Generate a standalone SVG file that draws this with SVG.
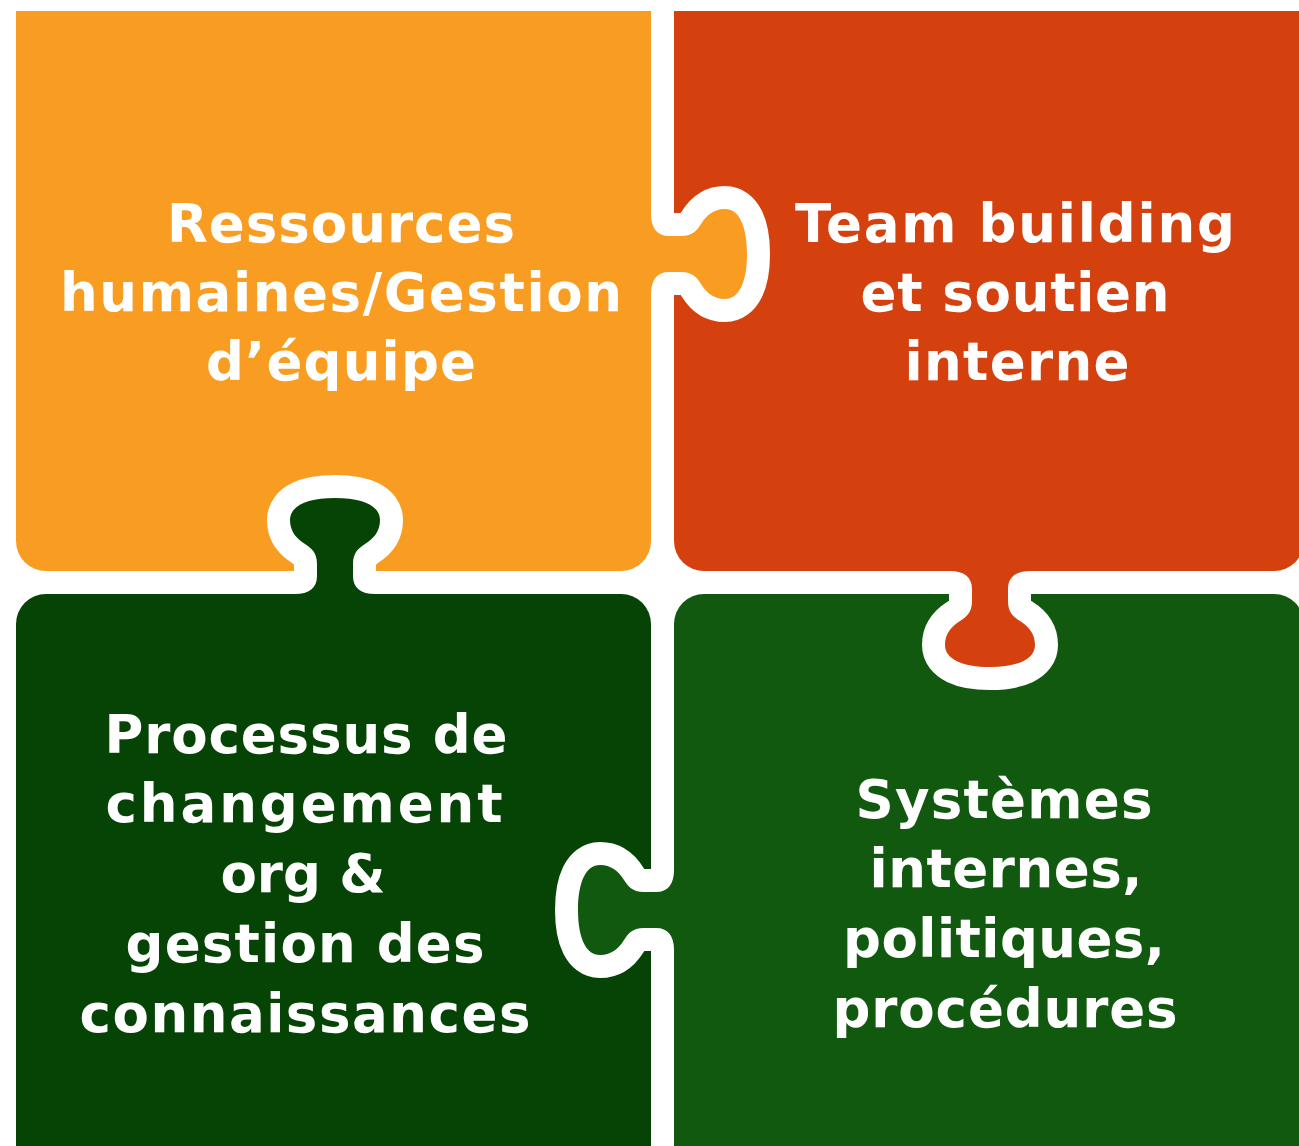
<svg xmlns="http://www.w3.org/2000/svg" xmlns:xlink="http://www.w3.org/1999/xlink" width="1299" height="1146" viewBox="0 0 1299 1146">
<style>
.lbl{font-family:"DejaVu Sans","Liberation Sans",sans-serif;font-weight:700;font-size:53px;fill:#ffffff;text-anchor:middle}
.cut{fill:#000;stroke:#000;stroke-width:46;stroke-linejoin:round}
</style>
<defs>
<path id="tab" d="M-10,-40 L0,-40 C0,-26 6,-18 18,-18 L30,-18 C42,-18 46,-24 50,-30 C55,-38 62,-45 74,-45 C88,-45 96,-28 96,0 C96,28 88,45 74,45 C62,45 55,38 50,30 C46,24 42,18 30,18 L18,18 C6,18 0,26 0,40 L-10,40 Z"/>
<mask id="m-orange" maskUnits="userSpaceOnUse" x="0" y="0" width="1299" height="1146">
<rect x="0" y="0" width="1299" height="1146" fill="#fff"/>
<use xlink:href="#tab" class="cut" transform="translate(335,594) rotate(-90)"/>
</mask>
<mask id="m-red" maskUnits="userSpaceOnUse" x="0" y="0" width="1299" height="1146">
<rect x="0" y="0" width="1299" height="1146" fill="#fff"/>
<use xlink:href="#tab" class="cut" transform="translate(651,254)"/>
</mask>
<mask id="m-green" maskUnits="userSpaceOnUse" x="0" y="0" width="1299" height="1146">
<rect x="0" y="0" width="1299" height="1146" fill="#fff"/>
<use xlink:href="#tab" class="cut" transform="translate(990,571) rotate(90)"/>
</mask>
<mask id="m-dark" maskUnits="userSpaceOnUse" x="0" y="0" width="1299" height="1146">
<rect x="0" y="0" width="1299" height="1146" fill="#fff"/>
<use xlink:href="#tab" class="cut" transform="translate(674,910) rotate(180)"/>
</mask>
</defs>
<rect x="0" y="0" width="1299" height="1146" fill="#ffffff"/>

<g id="piece-rh">
<path d="M16,11 H651 V541 A30,30 0 0 1 621,571 H46 A30,30 0 0 1 16,541 Z" fill="#F89C22" mask="url(#m-orange)"/>
<use xlink:href="#tab" fill="#F89C22" transform="translate(651,254)"/>
<text class="lbl" x="341" y="242" textLength="348">Ressources</text>
<text class="lbl" x="341" y="311" textLength="562">humaines/Gestion</text>
<text class="lbl" x="341" y="380" textLength="270">d’équipe</text>
</g>

<g id="piece-team">
<path d="M674,11 H1304 V541 A30,30 0 0 1 1274,571 H704 A30,30 0 0 1 674,541 Z" fill="#D4410F" mask="url(#m-red)"/>
<use xlink:href="#tab" fill="#D4410F" transform="translate(990,571) rotate(90)"/>
<text class="lbl" x="1015" y="242" textLength="440">Team building</text>
<text class="lbl" x="1015" y="311" textLength="309">et soutien</text>
<text class="lbl" x="1017" y="380" textLength="225">interne</text>
</g>

<g id="piece-processus">
<path d="M16,624 A30,30 0 0 1 46,594 H621 A30,30 0 0 1 651,624 V1146 H16 Z" fill="#054405" mask="url(#m-dark)"/>
<use xlink:href="#tab" fill="#054405" transform="translate(335,594) rotate(-90)"/>
<text class="lbl" x="306" y="753" textLength="403">Processus de</text>
<text class="lbl" x="304" y="822" textLength="397">changement</text>
<text class="lbl" x="303" y="892" textLength="165">org &amp;</text>
<text class="lbl" x="305" y="962" textLength="359">gestion des</text>
<text class="lbl" x="305" y="1032" textLength="451">connaissances</text>
</g>

<g id="piece-systemes">
<path d="M674,624 A30,30 0 0 1 704,594 H1274 A30,30 0 0 1 1304,624 V1146 H674 Z" fill="#11590F" mask="url(#m-green)"/>
<use xlink:href="#tab" fill="#11590F" transform="translate(674,910) rotate(180)"/>
<text class="lbl" x="1004" y="818" textLength="297">Systèmes</text>
<text class="lbl" x="1006" y="887" textLength="273">internes,</text>
<text class="lbl" x="1004" y="957" textLength="322">politiques,</text>
<text class="lbl" x="1005" y="1027" textLength="345">procédures</text>
</g>
</svg>
